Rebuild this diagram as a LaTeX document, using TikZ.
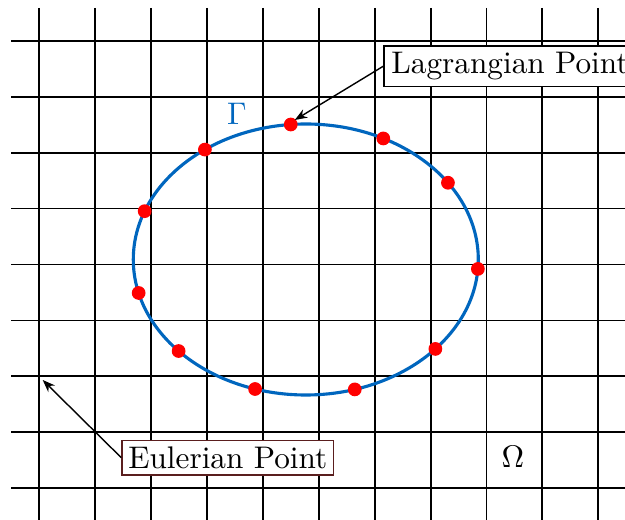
\documentclass[tikz,border=0pt]{standalone}
\usetikzlibrary{arrows.meta}
\definecolor{ellblue}{RGB}{0,102,190}
\definecolor{boxbrown}{RGB}{90,30,30}
\begin{document}
\begin{tikzpicture}[x=0.32pt,y=-0.32pt,
  gridline/.style={line width=0.6pt,black},
  curve/.style={line width=1pt,ellblue},
  dot/.style={circle,fill=red,inner sep=0pt,minimum size=4.4pt},
  label/.style={draw,line width=0.5pt,fill=white,inner sep=2pt},
  pointer/.style={line width=0.45pt,-{Stealth[length=4pt,width=3pt]}}]
\useasboundingbox (0,0) rectangle (625,520);
% grid
\foreach \k in {0,...,10}
  \draw[gridline] ({39.3+55.9*\k},8) -- ({39.3+55.9*\k},525);
\foreach \k in {0,...,8}
  \draw[gridline] (11.5,{40.7+55.95*\k}) -- (630,{40.7+55.95*\k});
% interface
\begin{scope}[shift={(305.8,259.5)}]
  \draw[curve] (0,0) ellipse [x radius=172.5, y radius=135.5];
  \foreach \t [count=\i] in {95,125.8,159.1,194.3,222.5,252.9,286.5,318.7,356,34.5,63.3}
    \node[dot] (p\i) at (-\t:172.5 and 135.5) {};
\end{scope}
\node[text=ellblue] (gamma) at (237,113.5) {$\Gamma$};
\node (omega) at (513,456.7) {$\Omega$};
% labels
\node[label,inner xsep=2.4pt] (lag) at (510,66.3) {Lagrangian Point};
\node[label,draw=boxbrown] (eul) at (227.8,457.7) {Eulerian Point};
\coordinate (ept) at (42.7,380);
\draw[pointer,shorten >=-0.5pt] (lag.west) -- (p1.north east);
\draw[pointer] (eul.west) -- (ept);
\end{tikzpicture}
\end{document}
